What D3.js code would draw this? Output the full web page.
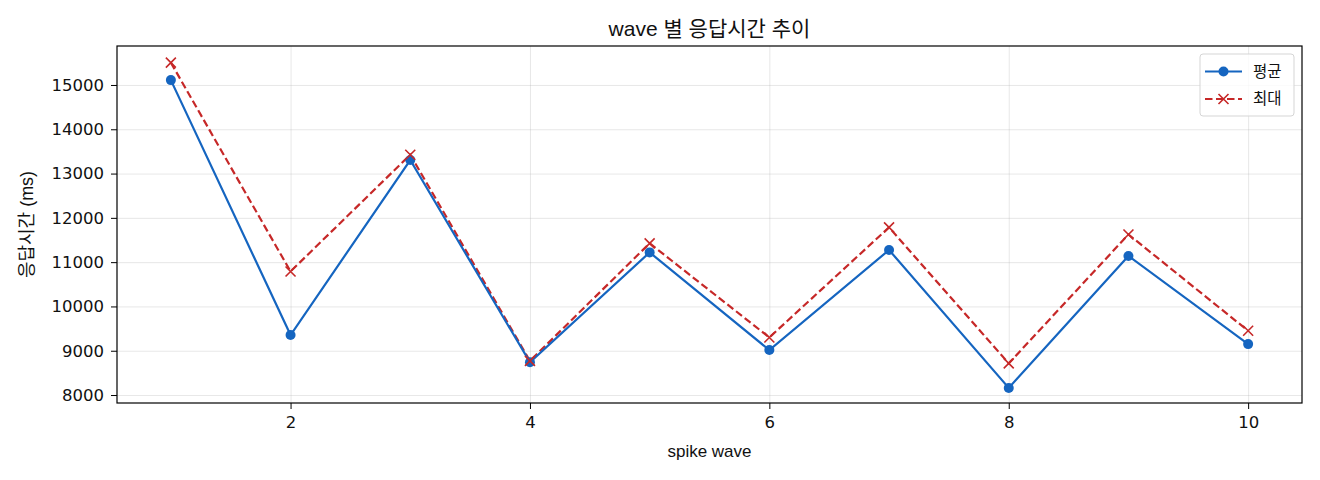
<!DOCTYPE html>
<html>
<head>
<meta charset="utf-8">
<script src="https://cdn.jsdelivr.net/npm/d3@7"></script>
<style>
  body { margin: 0; background: #fff; }
  svg text { font-family: "Liberation Sans", "Noto Sans CJK KR", sans-serif; fill: #111; }
  .tick text { font-family: "DejaVu Sans", sans-serif; }
  .grid line { stroke: #b0b0b0; stroke-opacity: 0.3; }
  .grid path { display: none; }
</style>
</head>
<body>
<div class="chart"></div>
<script>
'use strict';

// data
const waves = [1, 2, 3, 4, 5, 6, 7, 8, 9, 10];
const avgMs = [15110, 9355, 13305, 8740, 11220, 9015, 11275, 8160, 11140, 9150];
const maxMs = [15505, 10790, 13425, 8770, 11425, 9300, 11785, 8715, 11625, 9450];
const xTicks = [2, 4, 6, 8, 10];
const yTicks = [8000, 9000, 10000, 11000, 12000, 13000, 14000, 15000];
const legendData = [
  { text: '평균', color: '#1565c0', dash: null, marker: 'dot' },
  { text: '최대', color: '#c62828', dash: '7.5,3.5', marker: 'x' }
];

const FULL_WIDTH = 1320;
const FULL_HEIGHT = 480;
const margin = { top: 46, right: 18, bottom: 77, left: 117 };
const WIDTH = FULL_WIDTH - margin.left - margin.right;
const HEIGHT = FULL_HEIGHT - margin.top - margin.bottom;

const svg = d3.select('.chart')
  .append('svg')
    .attr('width', FULL_WIDTH)
    .attr('height', FULL_HEIGHT)
  .append('g')
    .attr('transform', 'translate(' + margin.left + ',' + margin.top + ')');

const x = d3.scaleLinear()
  .domain([0.55, 10.45])
  .range([0, WIDTH]);

const y = d3.scaleLinear()
  .domain([7820, 15880])
  .range([HEIGHT, 0]);

// grid
svg.append('g')
    .attr('class', 'grid')
    .attr('transform', 'translate(0,' + HEIGHT + ')')
    .call(d3.axisBottom(x).tickValues(xTicks).tickSize(-HEIGHT).tickFormat(''));
svg.append('g')
    .attr('class', 'grid')
    .call(d3.axisLeft(y).tickValues(yTicks).tickSize(-WIDTH).tickFormat(''));

// axes
const xAxis = svg.append('g')
    .attr('transform', 'translate(0,' + HEIGHT + ')')
    .call(d3.axisBottom(x).tickValues(xTicks).tickSize(6).tickPadding(7));
const yAxis = svg.append('g')
    .call(d3.axisLeft(y).tickValues(yTicks).tickSize(6).tickPadding(7).tickFormat(d3.format('d')));
[xAxis, yAxis].forEach((a) => {
  a.select('.domain').remove();
  a.selectAll('line').attr('stroke', '#000').attr('stroke-width', 1);
  a.selectAll('text').attr('font-size', '16.5px').attr('fill', '#111');
});

svg.append('rect')
    .attr('width', WIDTH)
    .attr('height', HEIGHT)
    .attr('fill', 'none')
    .attr('stroke', '#000')
    .attr('stroke-width', 1.2);

// lines
const line = (vals) => d3.line()
  .x((d, i) => x(waves[i]))
  .y((d) => y(d))(vals);

svg.append('path')
    .attr('d', line(maxMs))
    .attr('fill', 'none')
    .attr('stroke', legendData[1].color)
    .attr('stroke-width', 2.2)
    .attr('stroke-dasharray', legendData[1].dash);

svg.append('path')
    .attr('d', line(avgMs))
    .attr('fill', 'none')
    .attr('stroke', legendData[0].color)
    .attr('stroke-width', 2.2);

svg.selectAll('.dot')
  .data(avgMs)
  .enter()
  .append('circle')
    .attr('class', 'dot')
    .attr('r', 5)
    .attr('cx', (d, i) => x(waves[i]))
    .attr('cy', (d) => y(d))
    .attr('fill', legendData[0].color);

function cross(g, color) {
  g.append('path')
    .attr('d', 'M-5,-5L5,5M-5,5L5,-5')
    .attr('stroke', color)
    .attr('stroke-width', 1.6)
    .attr('fill', 'none');
}

svg.selectAll('.xmark')
  .data(maxMs)
  .enter()
  .append('g')
    .attr('class', 'xmark')
    .attr('transform', (d, i) => 'translate(' + x(waves[i]) + ',' + y(d) + ')')
    .each(function () { cross(d3.select(this), legendData[1].color); });

// titles
svg.append('text')
    .attr('x', WIDTH / 2)
    .attr('y', -10)
    .attr('text-anchor', 'middle')
    .attr('font-size', '21px')
    .text('wave 별 응답시간 추이');

svg.append('text')
    .attr('x', WIDTH / 2)
    .attr('y', HEIGHT + 54)
    .attr('text-anchor', 'middle')
    .attr('font-size', '17px')
    .text('spike wave');

svg.append('text')
    .attr('transform', 'rotate(-90)')
    .attr('x', -HEIGHT / 2)
    .attr('y', -84)
    .attr('text-anchor', 'middle')
    .attr('font-size', '18px')
    .text('응답시간 (ms)');

// legend
const legend = svg.append('g')
    .attr('transform', 'translate(' + (WIDTH - 102) + ',8)');

legend.append('rect')
    .attr('width', 94)
    .attr('height', 62)
    .attr('rx', 3)
    .attr('fill', '#fff')
    .attr('fill-opacity', 0.8)
    .attr('stroke', '#d5d5d5');

legendData.forEach((d, i) => {
  const row = legend.append('g')
      .attr('transform', 'translate(0,' + (17.5 + i * 27.5) + ')');
  row.append('line')
      .attr('x1', 5)
      .attr('x2', 42)
      .attr('stroke', d.color)
      .attr('stroke-width', 2.2)
      .attr('stroke-dasharray', d.dash);
  if (d.marker === 'dot') {
    row.append('circle').attr('cx', 23.5).attr('r', 5).attr('fill', d.color);
  } else {
    cross(row.append('g').attr('transform', 'translate(23.5,0)'), d.color);
  }
  row.append('text')
      .attr('x', 53)
      .attr('dy', '0.35em')
      .attr('font-size', '15.5px')
      .text(d.text);
});
</script>
</body>
</html>
